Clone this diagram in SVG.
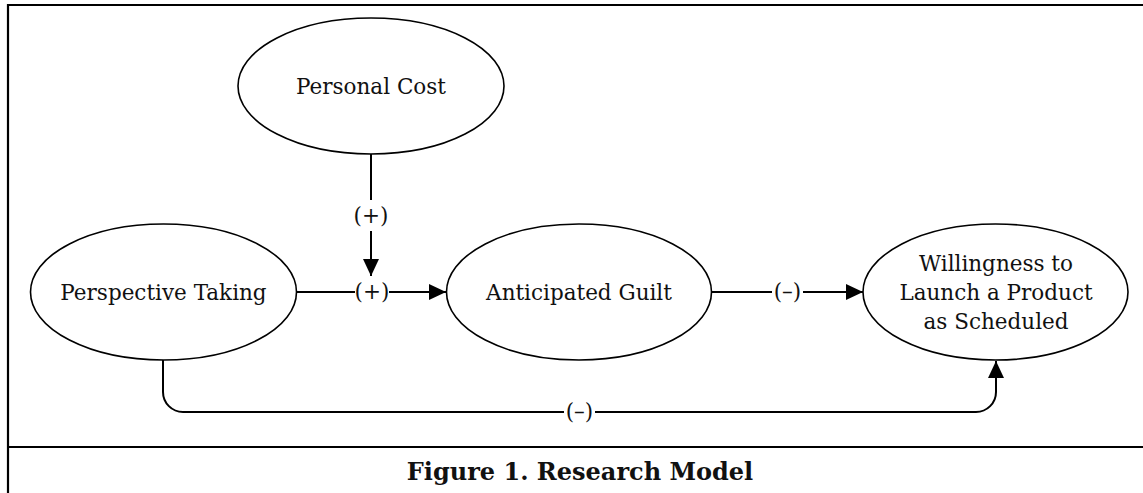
<svg xmlns="http://www.w3.org/2000/svg" width="1143" height="493" viewBox="0 0 1143 493">
<defs>
<style>
.node{fill:#fff;stroke:#000;stroke-width:1.6}
.t{font-family:"DejaVu Serif","Liberation Serif",serif;font-size:21.5px;fill:#111;text-anchor:middle}
.lbl{font-family:"DejaVu Serif","Liberation Serif",serif;font-size:21.5px;fill:#111;text-anchor:middle}
.c{fill:none;stroke:#000;stroke-width:2}
.frame{fill:none;stroke:#000;stroke-width:2.2}
.cap{font-family:"DejaVu Serif","Liberation Serif",serif;font-size:24px;font-weight:bold;fill:#111;text-anchor:middle}
</style>
<marker id="ah" markerUnits="userSpaceOnUse" markerWidth="17" markerHeight="16" refX="17" refY="8" orient="auto" viewBox="0 0 17 16">
<path d="M0,0 L17,8 L0,16 z" fill="#000"/>
</marker>
</defs>
<rect width="1143" height="493" fill="#fff"/>
<g id="frame">
<path class="frame" d="M1145,5 H8 V495"/>
<line class="frame" x1="8" y1="447" x2="1145" y2="447"/>
</g>
<g id="personal-cost">
<ellipse class="node" cx="371" cy="86" rx="133" ry="68"/>
<text class="t" x="371" y="94">Personal Cost</text>
</g>
<g id="perspective-taking">
<ellipse class="node" cx="163.5" cy="292" rx="133" ry="68"/>
<text class="t" x="163.5" y="300">Perspective Taking</text>
</g>
<g id="anticipated-guilt">
<ellipse class="node" cx="579" cy="292" rx="132.5" ry="68"/>
<text class="t" x="579" y="300">Anticipated Guilt</text>
</g>
<g id="willingness">
<ellipse class="node" cx="995.5" cy="292" rx="132.5" ry="68"/>
<text class="t" x="996" y="271">Willingness to</text>
<text class="t" x="996" y="300">Launch a Product</text>
<text class="t" x="996" y="329">as Scheduled</text>
</g>
<g id="connectors">
<path class="c" d="M371,154 V200"/>
<path class="c" d="M371,231 V276" marker-end="url(#ah)"/>
<text class="lbl" x="371" y="223">(+)</text>
<path class="c" d="M297,292 H355"/>
<path class="c" d="M389,292 H446" marker-end="url(#ah)"/>
<text class="lbl" x="372" y="299">(+)</text>
<path class="c" d="M712,292 H772"/>
<path class="c" d="M803,292 H863" marker-end="url(#ah)"/>
<text class="lbl" x="787.5" y="299">(–)</text>
<path class="c" d="M163,360 V392 A20,20 0 0 0 183,412 H564"/>
<path class="c" d="M595,412 H976 A20,20 0 0 0 996,392 V361" marker-end="url(#ah)"/>
<text class="lbl" x="579.5" y="419">(–)</text>
</g>
<g id="caption">
<text class="cap" x="580" y="480">Figure 1. Research Model</text>
</g>
</svg>
